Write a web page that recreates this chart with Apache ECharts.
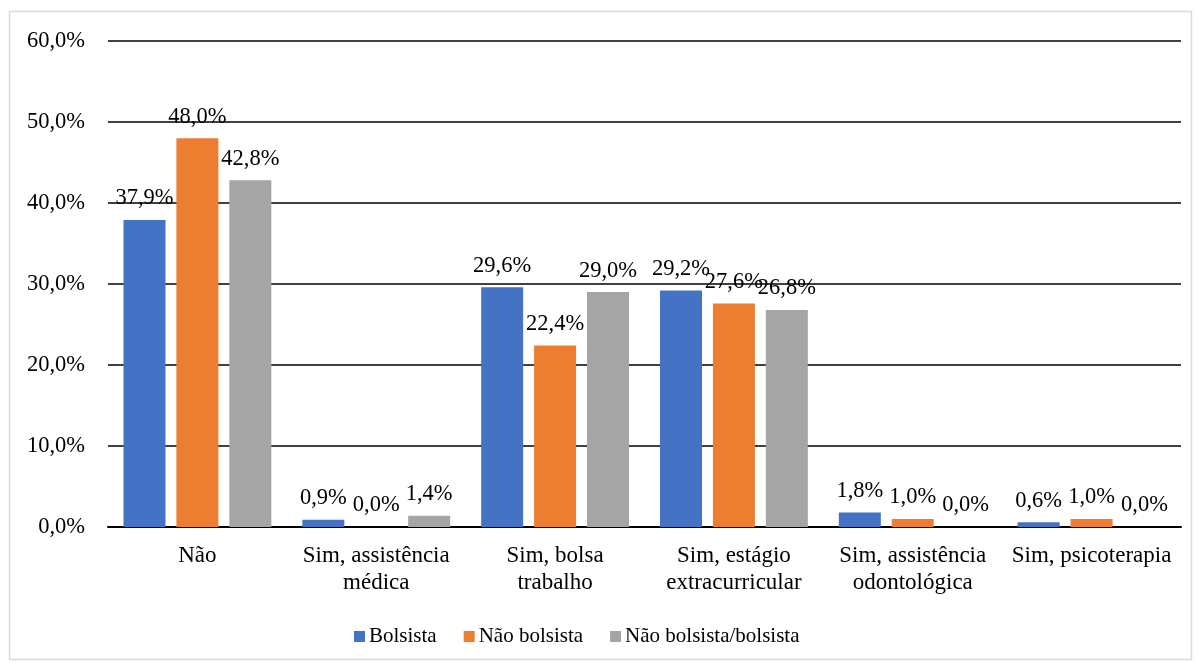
<!DOCTYPE html>
<html>
<head>
<meta charset="utf-8">
<script src="https://cdn.jsdelivr.net/npm/echarts@6/dist/echarts.min.js"></script>
<style>
html, body { margin: 0; padding: 0; background: #fff; }
#main { width: 1198px; height: 663px; }
</style>
</head>
<body>
<div id="main"></div>
<script>
// dados do gráfico
var categorias = ['Não', 'Sim, assistência\nmédica', 'Sim, bolsa\ntrabalho', 'Sim, estágio\nextracurricular', 'Sim, assistência\nodontológica', 'Sim, psicoterapia'];
var bolsista = [37.9, 0.9, 29.6, 29.2, 1.8, 0.6];
var naoBolsista = [48.0, 0.0, 22.4, 27.6, 1.0, 1.0];
var naoBolsistaBolsista = [42.8, 1.4, 29.0, 26.8, 0.0, 0.0];
var nomes = ['Bolsista', 'Não bolsista', 'Não bolsista/bolsista'];
var cores = ['#4472C4', '#ED7D31', '#A5A5A5'];

var fonte = '"Liberation Serif", "DejaVu Serif", serif';

function fmt(v) {
    return v.toFixed(1).replace('.', ',') + '%';
}

function serie(nome, dados, cor) {
    return {
        name: nome,
        type: 'bar',
        data: dados,
        barWidth: 42,
        barGap: '26%',
        itemStyle: { color: cor },
        label: {
            show: true,
            position: 'top',
            distance: 10,
            color: '#000',
            fontFamily: fonte,
            fontSize: 22.5,
            formatter: function (p) { return fmt(p.value); }
        }
    };
}

var myChart = echarts.init(document.getElementById('main'));
myChart.setOption({
    animation: false,
    textStyle: { fontFamily: fonte },
    graphic: [{
        type: 'rect',
        shape: { x: 9.5, y: 11.5, width: 1182, height: 648 },
        style: { fill: null, stroke: '#d9d9d9', lineWidth: 1.5 },
        silent: true
    }],
    legend: {
        bottom: 11,
        left: 349,
        itemWidth: 11,
        itemHeight: 11,
        itemGap: 27,
        icon: 'rect',
        textStyle: { fontFamily: fonte, fontSize: 21, color: '#000', padding: [0, 0, 0, -1] },
        data: nomes
    },
    grid: { left: 108, right: 17, top: 41, bottom: 136 },
    xAxis: {
        type: 'category',
        data: categorias,
        axisLine: { lineStyle: { color: '#000', width: 2 } },
        axisTick: { show: false },
        axisLabel: {
            interval: 0,
            margin: 15,
            color: '#000',
            fontFamily: fonte,
            fontSize: 23,
            lineHeight: 27
        }
    },
    yAxis: {
        type: 'value',
        min: 0,
        max: 60,
        interval: 10,
        axisLine: { show: false },
        axisTick: { show: false },
        splitLine: { lineStyle: { color: '#000', width: 1.5 } },
        axisLabel: {
            margin: 23,
            color: '#000',
            fontFamily: fonte,
            fontSize: 22.5,
            formatter: function (v) { return fmt(v); }
        }
    },
    series: [
        serie(nomes[0], bolsista, cores[0]),
        serie(nomes[1], naoBolsista, cores[1]),
        serie(nomes[2], naoBolsistaBolsista, cores[2])
    ]
});
</script>
</body>
</html>
